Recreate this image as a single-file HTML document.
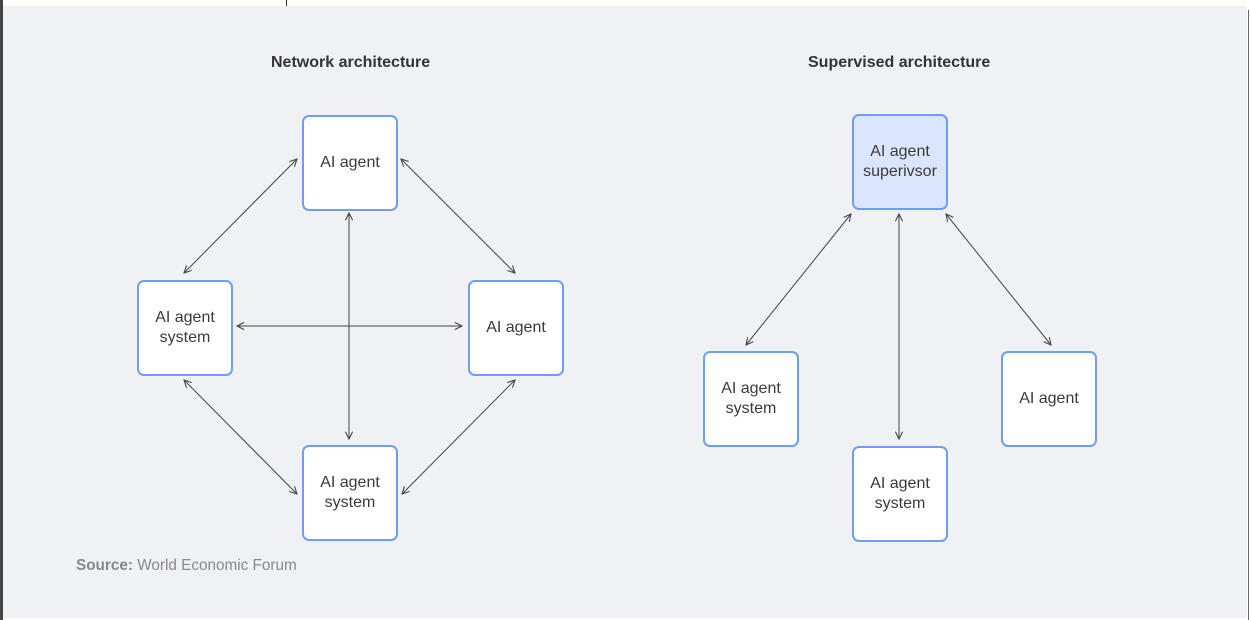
<!DOCTYPE html>
<html><head><meta charset="utf-8"><style>
html,body{margin:0;padding:0;width:1250px;height:620px;overflow:hidden;background:#fff}
.wrap{position:absolute;left:0;top:0;width:1250px;height:620px}
.bg{position:absolute;left:3px;top:6px;width:1244px;height:612px;background:#f0f1f4}
.lb{position:absolute;left:0;top:0;width:3px;height:620px;background:#444}
.rb{position:absolute;left:1248px;top:10px;width:1px;height:610px;background:#666}
.tk{position:absolute;left:286px;top:0;width:1px;height:6px;background:#333}
.t{position:absolute;font-family:"Liberation Sans",sans-serif;font-weight:bold;font-size:16px;color:#333;top:54px}
.box{position:absolute;box-sizing:border-box;width:96px;height:96px;border:2px solid #6e9df4;border-radius:7px;background:#fff;display:flex;align-items:center;justify-content:center;text-align:center;font-family:"Liberation Sans",sans-serif;font-size:16px;line-height:20px;color:#3a3a3a}
.src{position:absolute;left:76px;top:557px;font-family:"Liberation Sans",sans-serif;font-size:15.3px;color:#888}
</style></head><body><div class="wrap">
<div class="bg"></div><div class="lb"></div><div class="rb"></div><div class="tk"></div>
<div class="t" style="left:271px">Network architecture</div>
<div class="t" style="left:808px">Supervised architecture</div>
<svg width="1250" height="620" style="position:absolute;left:0;top:0">
<defs><marker id="a" viewBox="0 0 10 10" refX="9" refY="5" markerWidth="9" markerHeight="9" orient="auto-start-reverse"><path d="M1,1 L9,5 L1,9" fill="none" stroke="#444" stroke-width="1.2"/></marker></defs>
<g stroke="#444" stroke-width="1" fill="none" marker-start="url(#a)" marker-end="url(#a)">
<line x1="297" y1="159" x2="184" y2="273"/>
<line x1="401" y1="159" x2="515" y2="273"/>
<line x1="184" y1="380" x2="297" y2="494"/>
<line x1="515" y1="380" x2="402" y2="494"/>
<line x1="349" y1="213" x2="349" y2="439"/>
<line x1="237" y1="326" x2="462" y2="326"/>
<line x1="851" y1="214" x2="746" y2="345"/>
<line x1="899" y1="214" x2="899" y2="439"/>
<line x1="946" y1="214" x2="1051" y2="345"/>
</g></svg>
<div class="box" style="left:302px;top:115px">AI agent</div>
<div class="box" style="left:137px;top:280px">AI agent<br>system</div>
<div class="box" style="left:468px;top:280px">AI agent</div>
<div class="box" style="left:302px;top:445px">AI agent<br>system</div>
<div class="box" style="left:852px;top:114px;background:#dbe5fd">AI agent<br>superivsor</div>
<div class="box" style="left:703px;top:351px">AI agent<br>system</div>
<div class="box" style="left:1001px;top:351px">AI agent</div>
<div class="box" style="left:852px;top:446px">AI agent<br>system</div>
<div class="src"><b>Source:</b> World Economic Forum</div>
</div></body></html>
